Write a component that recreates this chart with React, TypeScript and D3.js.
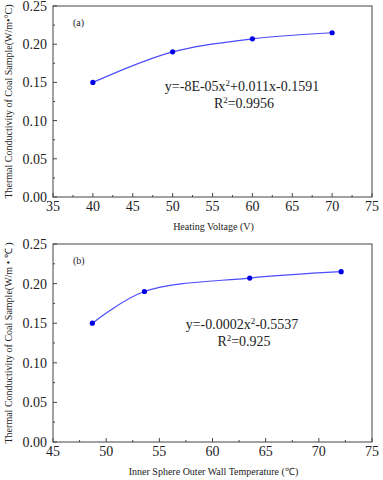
import React from "react";
import * as d3 from "d3";

// panel (a): heating voltage
const voltage = [40, 50, 60, 70];
const condA = [0.15, 0.19, 0.207, 0.215];
// panel (b): inner sphere outer wall temperature
const wallTemp = [48.7, 53.6, 63.5, 72.1];
const condB = [0.15, 0.19, 0.207, 0.215];

const yTicks = [0, 0.05, 0.1, 0.15, 0.2, 0.25];
const xTicksA = [35, 40, 45, 50, 55, 60, 65, 70, 75];
const xTicksB = [45, 50, 55, 60, 65, 70, 75];

const serif = "'Liberation Serif', 'Times New Roman', serif";
const lineColor = "#4b4bff";
const dotColor = "#0000e6";
const axisColor = "#444";
const textColor = "#222";

type PanelProps = {
  top: number;
  height: number;
  xs: number[];
  ys: number[];
  xDomain: [number, number];
  xTicks: number[];
  tag: string;
  xTitle: string;
  yTitle: string;
  eq: [string, string, string];
  r2: string;
  eqX: number;
};

const Panel = ({ top, height, xs, ys, xDomain, xTicks, tag, xTitle, yTitle, eq, r2, eqX }: PanelProps) => {
  const left = 53;
  const right = 372;
  const bottom = top + height;
  const x = d3.scaleLinear().domain(xDomain).range([left, right]);
  const y = d3.scaleLinear().domain([0, 0.25]).range([bottom, top]);
  const pts: [number, number][] = xs.map((v, i) => [x(v), y(ys[i])]);
  const line = d3.line().curve(d3.curveCatmullRom.alpha(0.5))(pts) || "";
  const minorX = d3.range(xDomain[0] + 2.5, xDomain[1], 5);
  const minorY = d3.range(0.025, 0.25, 0.05);
  return (
    <g fontFamily={serif} fill={textColor}>
      <rect x={left} y={top} width={right - left} height={bottom - top} fill="none" stroke={axisColor} strokeWidth={1} />
      {yTicks.map((t) => (
        <g key={"y" + t}>
          <line x1={left} x2={left + 4} y1={y(t)} y2={y(t)} stroke={axisColor} />
          <text x={left - 6} y={y(t)} dy="0.35em" textAnchor="end" fontSize={14}>
            {t.toFixed(2)}
          </text>
        </g>
      ))}
      {minorY.map((t) => (
        <line key={"my" + t} x1={left} x2={left + 2} y1={y(t)} y2={y(t)} stroke={axisColor} />
      ))}
      {xTicks.map((t) => (
        <g key={"x" + t}>
          <line x1={x(t)} x2={x(t)} y1={bottom} y2={bottom - 4} stroke={axisColor} />
          <text x={x(t)} y={bottom + 14} textAnchor="middle" fontSize={14}>
            {t}
          </text>
        </g>
      ))}
      {minorX.map((t) => (
        <line key={"mx" + t} x1={x(t)} x2={x(t)} y1={bottom} y2={bottom - 2} stroke={axisColor} />
      ))}
      <path d={line} fill="none" stroke={lineColor} strokeWidth={1.2} />
      {pts.map((p, i) => (
        <circle key={i} cx={p[0]} cy={p[1]} r={2.6} fill={dotColor} />
      ))}
      <text x={left + 20} y={top + 20} fontSize={10}>
        {tag}
      </text>
      <text x={eqX} y={top + 85} textAnchor="middle" fontSize={14}>
        {eq[0]}
        <tspan dy={-5} fontSize={9}>
          {eq[1]}
        </tspan>
        <tspan dy={5}>{eq[2]}</tspan>
      </text>
      <text x={eqX + 2} y={top + 102} textAnchor="middle" fontSize={14}>
        R<tspan dy={-5} fontSize={9}>2</tspan>
        <tspan dy={5}>{r2}</tspan>
      </text>
      <text x={(left + right) / 2 + 1} y={bottom + 33} textAnchor="middle" fontSize={10}>
        {xTitle}
      </text>
      <text
        transform={`translate(12,${(top + bottom) / 2}) rotate(-90)`}
        textAnchor="middle"
        fontSize={10}
      >
        {yTitle}
      </text>
    </g>
  );
};

export default function App() {
  return (
    <svg width={383} height={480} style={{ position: "absolute", left: 0, top: 0, background: "#fff" }}>
      <Panel
        top={6}
        height={191}
        xs={voltage}
        ys={condA}
        xDomain={[35, 75]}
        xTicks={xTicksA}
        tag="(a)"
        xTitle="Heating Voltage (V)"
        yTitle="Thermal Conductivity of Coal Sample(W/m•°C)"
        eq={["y=-8E-05x", "2", "+0.011x-0.1591"]}
        r2="=0.9956"
        eqX={242}
      />
      <Panel
        top={244}
        height={198}
        xs={wallTemp}
        ys={condB}
        xDomain={[45, 75]}
        xTicks={xTicksB}
        tag="(b)"
        xTitle="Inner Sphere Outer Wall Temperature (℃)"
        yTitle="Thermal Conductivity of Coal Sample(W/m • ℃ )"
        eq={["y=-0.0002x", "2", "-0.5537"]}
        r2="=0.925"
        eqX={242}
      />
    </svg>
  );
}
